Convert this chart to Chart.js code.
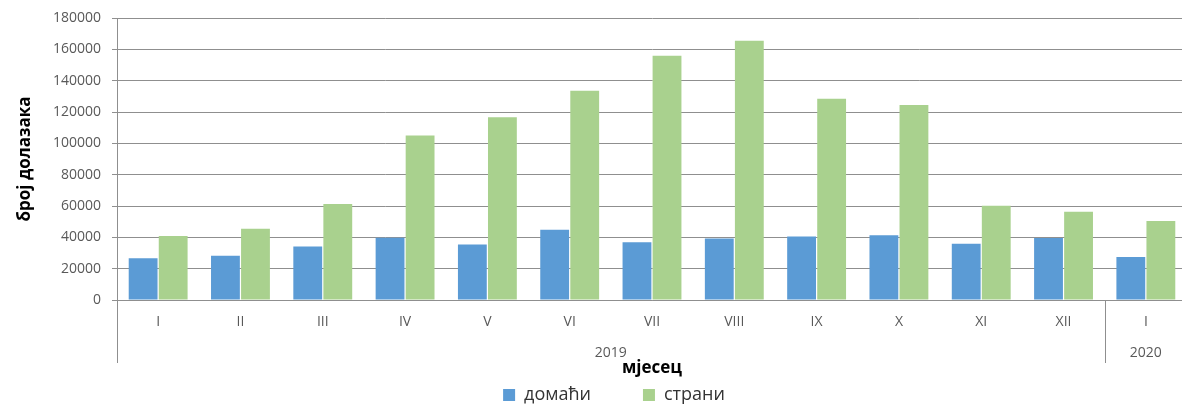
<!DOCTYPE html>
<html lang="sr">
<head>
  <meta charset="UTF-8">
  <title>Број долазака туриста</title>
  <script src="https://cdn.jsdelivr.net/npm/chart.js"></script>
  <style>
    body { margin: 0; overflow: hidden; background: #fff; }
    #wrap { width: 1187px; height: 405px; }
  </style>
</head>
<body>
  <div id="wrap"><canvas id="chart" width="1187" height="405"></canvas></div>

  <script>
    // мјесеци (доњи ред осе) и године (горњи ред)
    const months = ['I', 'II', 'III', 'IV', 'V', 'VI', 'VII', 'VIII', 'IX', 'X', 'XI', 'XII', 'I'];
    const years = ['2019', '2020'];
    const monthsPerYear = [12, 1];

    // број долазака, очитано са слике
    const domaci = [26600, 28300, 34200, 39700, 35500, 44800, 36800, 39300, 40600, 41400, 35900, 39500, 27500];
    const strani = [40800, 45400, 61300, 105000, 116600, 133500, 155900, 165400, 128400, 124400, 60200, 56400, 50500];

    const gridColor = '#8f8f8f';
    const textColor = '#595959';
    Chart.defaults.font.family = "'Open Sans', sans-serif";

    // други ред категорија: године са граничним линијама
    const yearRow = {
      id: 'yearRow',
      afterDraw(chart) {
        const { ctx, chartArea, scales: { x } } = chart;
        const half = (x.getPixelForValue(1) - x.getPixelForValue(0)) / 2;
        const top = chartArea.bottom;
        let start = 0;
        ctx.save();
        ctx.strokeStyle = gridColor;
        ctx.lineWidth = 1;
        ctx.fillStyle = textColor;
        ctx.font = "14px 'Open Sans', sans-serif";
        ctx.textAlign = 'center';
        ctx.textBaseline = 'middle';
        years.forEach((yr, i) => {
          const end = start + monthsPerYear[i] - 1;
          const left = x.getPixelForValue(start) - half;
          const right = x.getPixelForValue(end) + half;
          [left, right].forEach(px => {
            ctx.beginPath();
            ctx.moveTo(Math.round(px) + 0.5, top);
            ctx.lineTo(Math.round(px) + 0.5, top + 63);
            ctx.stroke();
          });
          ctx.fillText(yr, (left + right) / 2, top + 53);
          start = end + 1;
        });
        ctx.restore();
      }
    };

    new Chart(document.getElementById('chart'), {
      type: 'bar',
      data: {
        labels: months,
        datasets: [
          { label: 'домаћи', data: domaci, backgroundColor: '#5B9BD5' },
          { label: 'страни', data: strani, backgroundColor: '#A9D18E' }
        ]
      },
      options: {
        responsive: false,
        animation: false,
        categoryPercentage: 0.73,
        barPercentage: 0.96,
        // лијева маргина помјера легенду удесно као на оригиналу
        layout: { padding: { top: 8, left: 41, right: 0, bottom: 0 } },
        plugins: {
          tooltip: { enabled: false },
          legend: {
            position: 'bottom',
            maxHeight: 71,
            labels: {
              boxWidth: 12,
              boxHeight: 12,
              padding: 52,
              color: '#333',
              font: { size: 18 }
            }
          }
        },
        scales: {
          x: {
            grid: { display: false, drawTicks: false },
            border: { color: gridColor },
            ticks: { color: textColor, font: { size: 14 }, padding: 14, maxRotation: 0, autoSkip: false },
            title: {
              display: true,
              text: 'мјесец',
              color: '#000',
              font: { size: 17, weight: 'bold' },
              padding: { top: 0, bottom: -44.2 }
            },
            afterFit(scale) { scale.height = 34; }
          },
          y: {
            min: 0,
            max: 180000,
            ticks: {
              stepSize: 20000,
              color: textColor,
              font: { size: 14, lineHeight: 1 },
              padding: 11,
              callback: v => String(v)
            },
            grid: { color: gridColor, tickLength: 5 },
            border: { color: gridColor },
            title: {
              display: true,
              text: 'број долазака',
              color: '#000',
              font: { size: 17, weight: 'bold' },
              padding: { top: -26.2, bottom: 0 }
            },
            afterFit(scale) { scale.width = 76; }
          }
        }
      },
      plugins: [yearRow]
    });
  </script>
</body>
</html>
